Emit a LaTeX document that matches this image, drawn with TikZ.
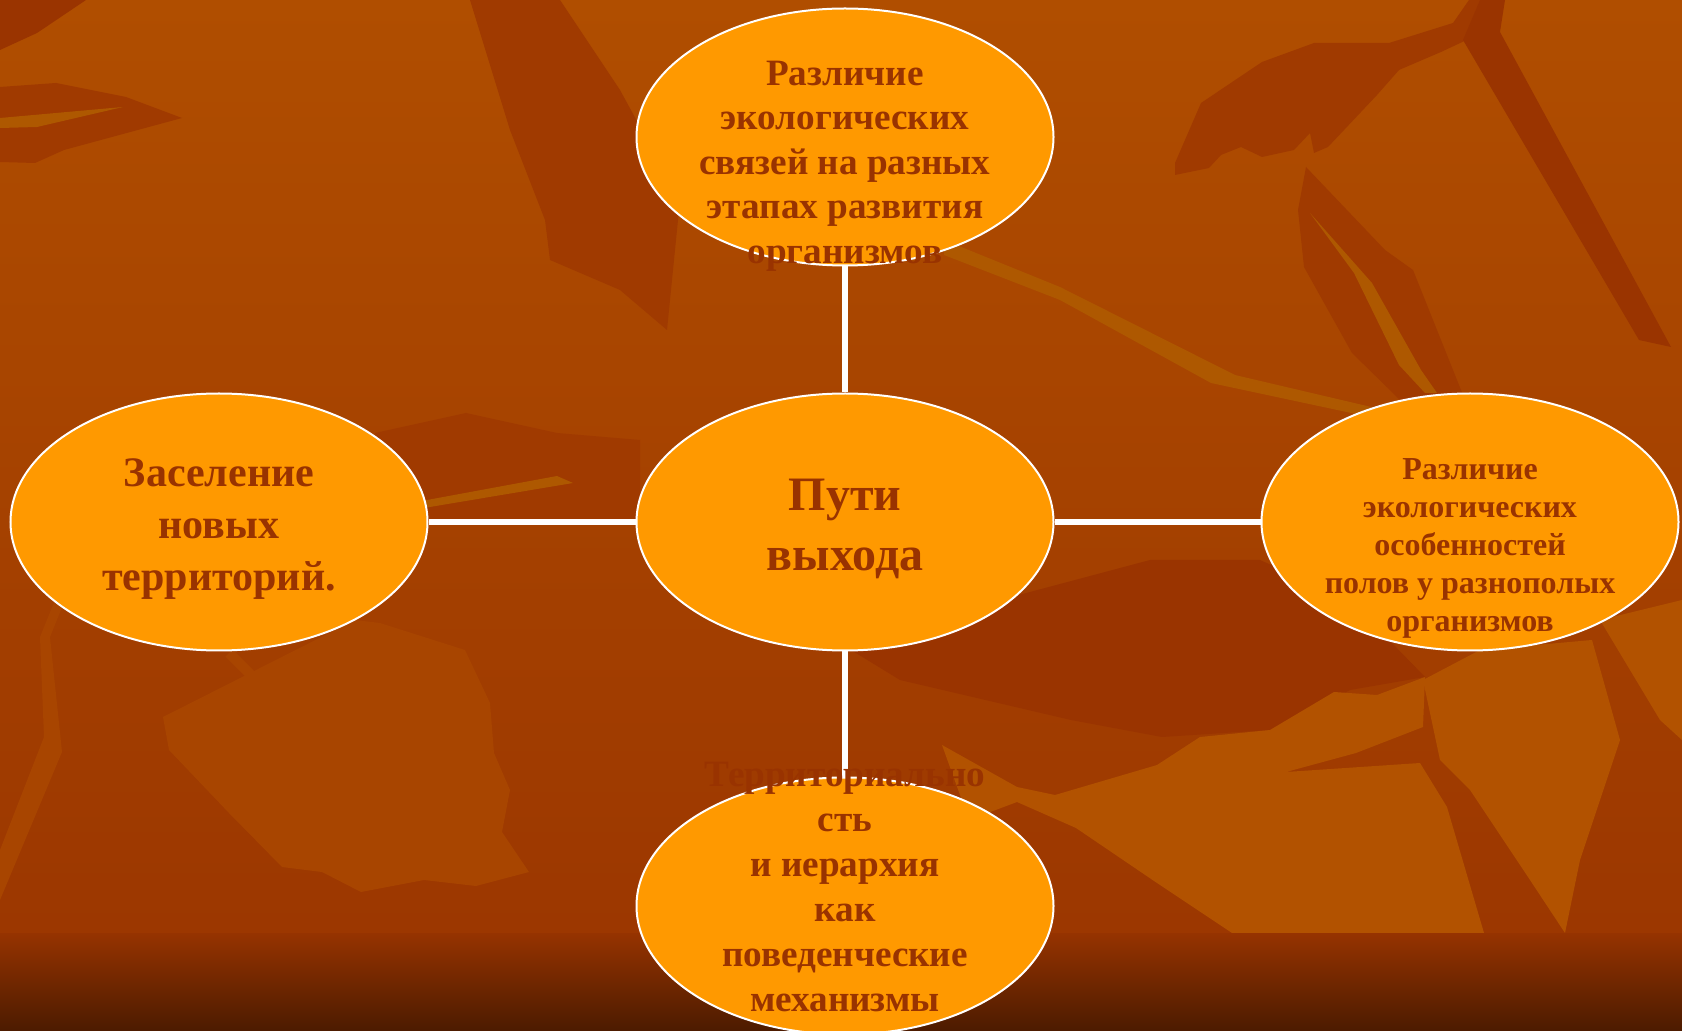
\documentclass[tikz,border=0pt]{standalone}
\usepackage{fontspec}
\setmainfont{Liberation Serif}
\usetikzlibrary{shapes.geometric}
\definecolor{slidetop}{HTML}{B04E00}
\definecolor{slidebottom}{HTML}{9C3700}
\definecolor{leaflight}{HTML}{B25200}
\definecolor{leafmid}{HTML}{A84500}
\definecolor{leafdark}{HTML}{A03A00}
\definecolor{leafvein}{HTML}{AE5800}
\definecolor{veindark}{HTML}{9A3400}
\definecolor{bandtop}{HTML}{963300}
\definecolor{bandbottom}{HTML}{4C1B00}
\definecolor{bubblefill}{HTML}{FF9900}
\definecolor{bubbleink}{HTML}{993300}
\tikzset{
  bubble/.style={
    ellipse,
    draw=white,
    line width=1pt,
    fill=bubblefill,
    minimum width=208.5pt,
    minimum height=128.5pt,
    inner sep=0pt
  },
  bubble text/.style n args={2}{
    text=bubbleink,
    align=center,
    inner sep=0pt,
    font=\bfseries\fontsize{#1}{#2}\selectfont
  },
  link/.style={draw=white, line width=2.6pt},
}

\begin{document}
\begin{tikzpicture}[x=0.5pt, y=-0.5pt]
	\useasboundingbox (0,0) rectangle (1682,1031);
	% background
	\shade[top color=slidetop, bottom color=slidebottom] (0,0) rectangle (1682,933);
	\fill[veindark] (0,0) -- (86,0) -- (37,33) -- (0,50) -- cycle;
	\fill[leafdark] (0,87) -- (56,83) -- (126,97) -- (182,118) -- (64,150) -- (35,163) -- (0,162) -- cycle;
	\fill[leafvein] (0,118) -- (123,107) -- (37,127) -- (0,128) -- cycle;
	\fill[leafdark] (470,0) -- (560,0) -- (620,90) -- (680,200) -- (667,330) -- (620,290) -- (550,260) -- (545,220) -- (510,130) -- cycle;
	\fill[leafdark] (375,433) -- (466,413) -- (557,433) -- (640,440) -- (640,520) -- (400,520) -- cycle;
	\fill[leafvein] (400,505) -- (557,476) -- (573,483) -- (400,512) -- cycle;
	% top right leaves
	\fill[leafdark] (1175,163) -- (1201,103) -- (1262,62) -- (1314,43) -- (1389,43) -- (1453,23) -- (1469,0) -- (1497,0)
		-- (1473,37) -- (1441,52) -- (1399,70) -- (1377,95) -- (1328,147) -- (1314,153) -- (1310,133) -- (1294,150)
		-- (1262,157) -- (1241,147) -- (1221,155) -- (1209,168) -- (1175,175) -- cycle;
	\fill[veindark] (1480,0) -- (1505,0) -- (1500,32) -- (1671,347) -- (1639,340) -- (1463,40) -- cycle;
	\fill[leafdark] (1306,167) -- (1385,250) -- (1413,270) -- (1453,370) -- (1465,400) -- (1400,400) -- (1352,353) -- (1304,267) -- (1298,210) -- cycle;
	\fill[leafvein] (1310,213) -- (1372,283) -- (1421,370) -- (1437,393) -- (1425,393) -- (1399,365) -- (1354,273) -- cycle;
	\fill[leafvein] (944,240) -- (1060,287) -- (1235,375) -- (1384,410) -- (1384,420) -- (1211,383) -- (1060,300) -- (944,255) -- cycle;
	% bottom left leaves
	\fill[leafmid] (163,717) -- (169,750) -- (229,813) -- (282,867) -- (322,872) -- (361,892) -- (424,880) -- (476,886)
		-- (529,872) -- (502,832) -- (510,790) -- (494,753) -- (490,703) -- (465,650) -- (380,623) -- (355,620) -- cycle;
	\draw[leafmid, line width=5pt] (229,653) -- (269,693) -- (339,740) -- (465,850) -- (494,868);
	\fill[leafmid] (55,600) -- (65,600) -- (50,637) -- (62,752) -- (0,900) -- (0,850) -- (44,737) -- (40,637) -- cycle;
	% bottom right leaves
	\fill[veindark] (851,650) -- (1000,600) -- (1150,560) -- (1260,560) -- (1350,600) -- (1425,677) -- (1350,690)
		-- (1270,730) -- (1162,737) -- (1071,720) -- (900,680) -- cycle;
	\fill[leaflight] (942,745) -- (1017,787) -- (1055,795) -- (1157,765) -- (1200,737) -- (1270,730) -- (1334,692)
		-- (1377,695) -- (1425,677) -- (1423,727) -- (1356,753) -- (1286,772) -- (1420,763) -- (1447,807) -- (1484,933)
		-- (1232,933) -- (1157,883) -- (1076,828) -- (1017,802) -- (969,820) -- cycle;
	\fill[leaflight] (1423,680) -- (1480,650) -- (1592,640) -- (1620,740) -- (1580,860) -- (1565,933) -- (1530,880) -- (1470,790) -- (1440,760) -- cycle;
	\fill[leaflight] (1600,620) -- (1682,600) -- (1682,740) -- (1660,720) -- cycle;
	\shade[top color=bandtop, bottom color=bandbottom] (0,933) rectangle (1682,1031);

	% bubbles
	\node[bubble] (paths) at (845,522) {};
	\node[bubble] (stages) at (845,137) {};
	\node[bubble] (sexes) at (1470,522) {};
	\node[bubble] (settling) at (219,522) {};
	\node[bubble] (territory) at (845,906) {};

	% links
	\draw[link] (paths) -- (stages);
	\draw[link] (paths) -- (sexes);
	\draw[link] (paths) -- (settling);
	\draw[link] (paths) -- (territory);

	% texts
	\node[bubble text={24}{30}] (pathstext) at (845,529) {Пути\\выхода};
	\node[bubble text={18.6}{22.25}] (stagestext) at (845,166) {Различие\\экологических\\связей на разных\\этапах развития\\организмов};
	\node[bubble text={16}{19}] (sexestext) at (1470,548) {Различие\\экологических\\особенностей\\полов у разнополых\\организмов};
	\node[bubble text={21}{26}] (settlingtext) at (219,529) {Заселение\\новых\\территорий.};
	\node[bubble text={18.6}{22.5}] (territorytext) at (845,887) {Территориально\\сть\\и иерархия\\как\\поведенческие\\механизмы};
\end{tikzpicture}
\end{document}
